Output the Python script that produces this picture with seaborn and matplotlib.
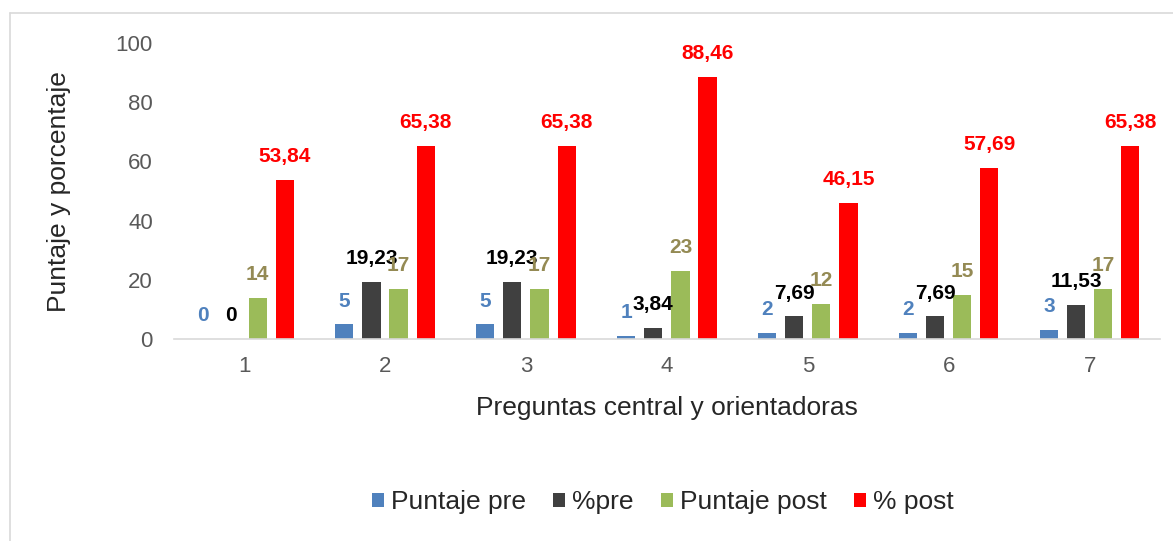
import matplotlib
matplotlib.use("Agg")
import matplotlib.pyplot as plt
import pandas as pd
import seaborn as sns

# Datos
preguntas = ["1", "2", "3", "4", "5", "6", "7"]
puntaje_pre = [0, 5, 5, 1, 2, 2, 3]
pct_pre = [0, 19.23, 19.23, 3.84, 7.69, 7.69, 11.53]
puntaje_post = [14, 17, 17, 23, 12, 15, 17]
pct_post = [53.84, 65.38, 65.38, 88.46, 46.15, 57.69, 65.38]
series = ["Puntaje pre", "%pre", "Puntaje post", "% post"]
etiquetas = {
    "Puntaje pre": ["0", "5", "5", "1", "2", "2", "3"],
    "%pre": ["0", "19,23", "19,23", "3,84", "7,69", "7,69", "11,53"],
    "Puntaje post": ["14", "17", "17", "23", "12", "15", "17"],
    "% post": ["53,84", "65,38", "65,38", "88,46", "46,15", "57,69", "65,38"],
}

colores = ["#4F81BD", "#404040", "#9BBB59", "#FF0000"]
colores_txt = ["#4F81BD", "#000000", "#948A54", "#FF0000"]

valores = [puntaje_pre, pct_pre, puntaje_post, pct_post]
df = pd.DataFrame({
    "Pregunta": preguntas * 4,
    "Serie": [s for s in series for _ in preguntas],
    "Valor": [v for vals in valores for v in vals],
})

sns.set_style("white")
plt.rcParams["font.family"] = ["Liberation Sans", "DejaVu Sans"]

fig = plt.figure(figsize=(11.73, 5.41), dpi=100)
ax = fig.add_axes([0.148, 0.373, 0.841, 0.5475])

sns.barplot(data=df, x="Pregunta", y="Valor", hue="Serie", hue_order=series,
            palette=colores, saturation=1, width=0.77, gap=0.33, linewidth=0,
            ax=ax, legend=True)

# Etiquetas de datos
for cont, serie, col in zip(ax.containers, series, colores_txt):
    for barra, txt in zip(cont, etiquetas[serie]):
        x = barra.get_x() + barra.get_width() / 2
        ax.annotate(txt, (x, barra.get_height()), xytext=(0, 10),
                    textcoords="offset points", ha="center", va="bottom",
                    fontsize=15, fontweight="bold", color=col)

ax.set_ylim(0, 100)
ax.set_yticks([0, 20, 40, 60, 80, 100])
ax.set_xlim(-0.5, 6.5)
ax.tick_params(axis="both", labelsize=16, labelcolor="#595959", length=0)
ax.tick_params(axis="y", pad=15)
ax.tick_params(axis="x", pad=12)
ax.set_ylabel("Puntaje y porcentaje", fontsize=19, labelpad=32)
ax.set_xlabel("Preguntas central y orientadoras", fontsize=19, labelpad=14)
for lado in ["top", "right", "left"]:
    ax.spines[lado].set_visible(False)
ax.spines["bottom"].set_color("#D9D9D9")
ax.spines["bottom"].set_linewidth(1.2)

ax.legend(loc="center", bbox_to_anchor=(0.565, 0.0718), bbox_transform=fig.transFigure,
          ncol=4, frameon=False, fontsize=19, handlelength=0.45, handleheight=0.45,
          handletextpad=0.25, columnspacing=1.05)

# Marco del grafico
fig.add_artist(plt.Line2D([0.0085, 0.0085], [0, 0.976], color="#D9D9D9", lw=1.2,
                          transform=fig.transFigure))
fig.add_artist(plt.Line2D([0.0085, 1.0], [0.976, 0.976], color="#D9D9D9", lw=1.2,
                          transform=fig.transFigure))

fig.savefig("out.png", dpi=100)
